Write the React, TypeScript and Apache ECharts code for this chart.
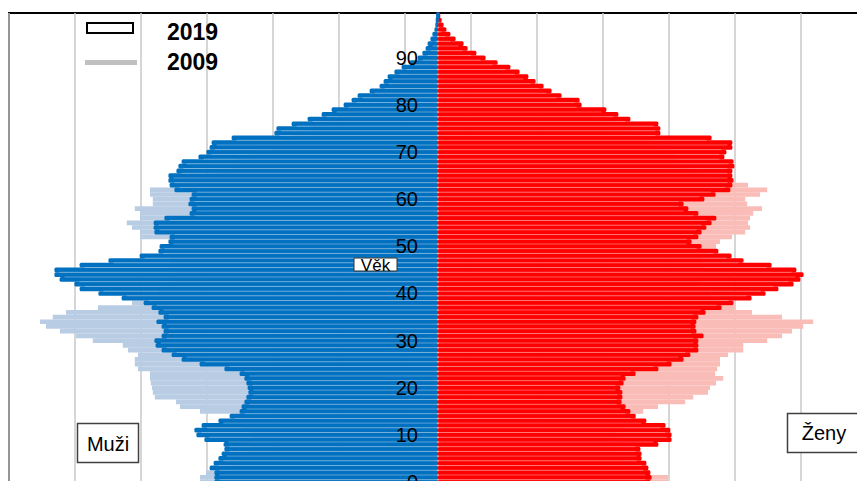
import React, { useEffect, useRef } from "react";
import * as echarts from "echarts";

// Ages 0..99 (category axis, bottom to top)
const ages: string[] = Array.from({ length: 100 }, (_, i) => String(i));
const ageTickStep = 10;

// Population in thousands, by single year of age (index = age)
const male2019 = [
  55.9, 55.9, 55.9, 57.1, 56.1, 54.9, 54.1, 53.4, 53.6, 58.4,
  60.4, 60.9, 59.1, 54.9, 52.1, 49.6, 49.1, 48.4, 47.9, 47.4,
  47.6, 47.9, 48.4, 49.6, 53.4, 59.6, 64.1, 66.6, 69.1, 70.6,
  70.9, 69.1, 68.6, 69.1, 70.4, 68.6, 69.9, 71.6, 73.6, 79.1,
  84.9, 89.6, 90.9, 94.6, 95.9, 95.9, 89.6, 82.4, 74.6, 69.9,
  69.6, 67.4, 67.1, 70.9, 71.1, 71.1, 68.4, 62.1, 61.6, 62.4,
  62.1, 61.6, 65.9, 67.1, 67.4, 67.4, 65.4, 64.9, 64.1, 59.9,
  57.9, 57.1, 56.6, 51.6, 40.9, 40.4, 36.6, 32.6, 29.1, 26.6,
  23.6, 21.6, 20.1, 17.1, 14.6, 13.6, 12.6, 10.9, 9.1, 7.1,
  5.1, 3.9, 3.1, 2.6, 1.9, 1.4, 0.9, 0.6, 0.4, 0.2,
];
const female2019 = [
  53.1, 53.4, 53.1, 52.6, 52.1, 50.9, 50.9, 50.6, 55.1, 58.4,
  58.4, 58.1, 56.9, 52.1, 49.4, 48.1, 46.9, 45.9, 46.1, 46.1,
  45.6, 46.4, 46.9, 49.4, 55.1, 58.4, 61.4, 63.1, 65.1, 65.1,
  65.1, 66.4, 64.6, 64.4, 64.6, 65.1, 66.9, 70.9, 73.9, 78.4,
  81.9, 85.1, 88.9, 90.6, 91.4, 89.6, 83.4, 76.4, 73.4, 70.1,
  65.9, 63.4, 65.1, 65.9, 67.1, 68.4, 69.6, 65.1, 62.6, 61.4,
  66.6, 69.4, 73.1, 73.6, 73.9, 73.6, 73.6, 74.1, 73.9, 71.6,
  72.1, 73.6, 73.6, 68.4, 55.6, 55.6, 55.1, 48.1, 45.1, 42.1,
  35.9, 35.4, 30.9, 28.4, 26.4, 24.4, 22.6, 20.4, 18.1, 14.9,
  11.9, 9.6, 7.4, 6.4, 4.4, 3.1, 2.1, 1.4, 0.9, 0.4,
];
const male2009 = [
  59.5, 59.5, 58.0, 53.8, 51.3, 49.5, 48.0, 47.0, 46.3, 46.3,
  46.8, 47.5, 48.8, 50.0, 51.3, 59.5, 64.5, 65.5, 70.8, 71.3,
  71.5, 71.8, 72.0, 72.0, 75.0, 75.8, 75.8, 75.0, 77.5, 78.8,
  86.3, 90.5, 94.5, 98.0, 99.5, 96.3, 93.0, 85.0, 76.5, 72.5,
  70.0, 69.5, 68.0, 66.3, 65.5, 67.0, 67.5, 67.0, 66.5, 67.5,
  68.8, 67.0, 74.5, 74.5, 76.5, 77.8, 74.5, 74.5, 75.8, 71.3,
  71.3, 72.0, 72.0, 66.3, 63.8, 56.3, 53.8, 51.3, 50.0, 47.5,
  45.0, 41.3, 38.8, 36.3, 35.0, 32.5, 30.0, 27.5, 25.0, 22.5,
  20.0, 17.5, 16.3, 13.8, 11.3, 10.0, 8.8, 7.5, 6.5, 5.0,
  3.8, 2.5, 2.0, 1.5, 1.3, 1.0, 0.5, 0.4, 0.3, 0.3,
];
const female2009 = [
  57.5, 57.5, 53.0, 50.0, 48.0, 46.5, 45.0, 44.3, 43.8, 44.0,
  44.5, 45.0, 46.3, 48.0, 49.5, 51.3, 55.0, 61.8, 63.8, 67.5,
  68.0, 69.5, 71.3, 69.3, 69.8, 70.5, 70.5, 72.5, 76.3, 76.3,
  82.3, 86.0, 88.5, 91.3, 93.8, 86.0, 78.5, 74.3, 71.3, 69.5,
  68.0, 67.0, 66.0, 65.0, 64.5, 66.0, 66.5, 66.0, 65.5, 67.5,
  69.5, 70.5, 73.5, 76.8, 78.0, 77.5, 78.0, 78.8, 81.0, 77.3,
  76.8, 80.5, 82.3, 77.5, 70.0, 66.3, 63.8, 62.0, 60.0, 58.8,
  57.5, 55.5, 53.8, 52.0, 50.0, 47.5, 45.0, 42.0, 39.5, 36.3,
  32.5, 30.0, 27.5, 25.0, 22.5, 20.0, 17.5, 15.0, 12.5, 10.0,
  7.5, 5.5, 4.5, 3.5, 2.5, 2.0, 1.3, 0.8, 0.5, 0.3,
];

const legendLabels = ["2019", "2009"];
const sideLabels = { men: "Muži", women: "Ženy", age: "Věk" };

const FONT = '"Liberation Sans", Arial, sans-serif';
const BLUE = "#0070c0";
const RED = "#ff0000";
const LIGHT_BLUE = "#b8cce4";
const LIGHT_RED = "#f9bcb7";

// seams between adjacent 2019 bars (rendering texture of the original)
function seamData(values: number[], sign: number) {
  const out: number[][] = [];
  for (let i = 0; i < values.length - 1; i++) {
    out.push([sign * Math.min(values[i], values[i + 1]), i]);
  }
  return out;
}

const seamRender = (_params: any, api: any) => {
  const v = api.value(0);
  const i = api.value(1);
  const p0 = api.coord([0, i]);
  const p1 = api.coord([v, i]);
  const h = api.size([0, 1])[1];
  const y = p0[1] - h / 2;
  const dir = v < 0 ? 1 : -1;
  const x2 = p1[0] + dir * 5;
  if ((x2 - p0[0]) * -dir <= 2) return { type: "group", children: [] };
  return {
    type: "line",
    shape: { x1: p0[0], y1: y, x2, y2: y },
    style: { stroke: "rgba(255,255,255,0.38)", lineWidth: 0.9 },
  };
};

export default function App() {
  const ref = useRef<HTMLDivElement>(null);

  useEffect(() => {
    if (!ref.current) return;
    const chart = echarts.init(ref.current, undefined, { renderer: "svg" });
    const gridLeft = 9;
    const gridWidth = 858;
    const half = 107.25;
    const barCommon = {
      type: "bar",
      barGap: "-100%",
      barCategoryGap: "0%",
      silent: true,
    };
    chart.setOption({
      animation: false,
      backgroundColor: "#ffffff",
      grid: {
        left: gridLeft,
        top: 13,
        width: gridWidth,
        height: 471.4,
        show: true,
        borderColor: "#000000",
        borderWidth: 2,
        backgroundColor: "transparent",
      },
      xAxis: {
        type: "value",
        min: -half,
        max: half,
        interval: 16.5,
        axisLine: { show: false },
        axisTick: { show: false },
        axisLabel: { show: false },
        splitLine: { show: true, lineStyle: { color: "#c8c8c8", width: 1.5 } },
      },
      yAxis: {
        type: "category",
        data: ages,
        position: "left",
        offset: -gridWidth / 2,
        z: 10,
        axisLine: { show: false },
        axisTick: { show: false },
        splitLine: { show: false },
        axisLabel: {
          interval: (idx: number) => idx % ageTickStep === 0,
          margin: 20,
          fontSize: 20,
          fontFamily: FONT,
          color: "#000000",
        },
      },
      series: [
        { ...barCommon, name: "Muži 2009", data: male2009.map((v) => -v), itemStyle: { color: LIGHT_BLUE } },
        { ...barCommon, name: "Ženy 2009", data: female2009, itemStyle: { color: LIGHT_RED } },
        {
          ...barCommon,
          name: "Ženy 2019",
          data: female2019,
          itemStyle: { color: RED, borderColor: RED, borderWidth: 3, borderJoin: "round" },
        },
        {
          ...barCommon,
          name: "Muži 2019",
          data: male2019.map((v) => -v),
          itemStyle: { color: BLUE, borderColor: BLUE, borderWidth: 3, borderJoin: "round" },
        },
        {
          type: "custom",
          silent: true,
          z: 3,
          encode: { x: 0, y: 1 },
          data: seamData(female2019, 1),
          renderItem: seamRender,
        },
        {
          type: "custom",
          silent: true,
          z: 3,
          encode: { x: 0, y: 1 },
          data: seamData(male2019, -1),
          renderItem: seamRender,
        },
      ],
      graphic: [
        {
          type: "rect",
          z: 20,
          shape: { x: 87, y: 23, width: 46, height: 10 },
          style: { fill: "#ffffff", stroke: "#000000", lineWidth: 2 },
        },
        {
          type: "text",
          z: 20,
          x: 167,
          y: 32,
          style: { text: legendLabels[0], fontSize: 23, fontWeight: "bold", fontFamily: FONT, fill: "#000", align: "left", verticalAlign: "middle" },
        },
        {
          type: "line",
          z: 20,
          shape: { x1: 85, y1: 62.5, x2: 137, y2: 62.5 },
          style: { stroke: "#c0c0c0", lineWidth: 5 },
        },
        {
          type: "text",
          z: 20,
          x: 167,
          y: 62,
          style: { text: legendLabels[1], fontSize: 23, fontWeight: "bold", fontFamily: FONT, fill: "#000", align: "left", verticalAlign: "middle" },
        },
        {
          type: "rect",
          z: 20,
          shape: { x: 354, y: 258, width: 43, height: 13 },
          style: { fill: "#ffffff", stroke: "#333333", lineWidth: 1 },
        },
        {
          type: "text",
          z: 21,
          x: 375.5,
          y: 265,
          style: { text: sideLabels.age, fontSize: 17, fontFamily: FONT, fill: "#000", align: "center", verticalAlign: "middle" },
        },
        {
          type: "rect",
          z: 20,
          shape: { x: 77.5, y: 423.5, width: 61, height: 39 },
          style: { fill: "#ffffff", stroke: "#404040", lineWidth: 1.5 },
        },
        {
          type: "text",
          z: 21,
          x: 108,
          y: 443.5,
          style: { text: sideLabels.men, fontSize: 20, fontFamily: FONT, fill: "#000", align: "center", verticalAlign: "middle" },
        },
        {
          type: "rect",
          z: 20,
          shape: { x: 787.5, y: 413.5, width: 74, height: 39 },
          style: { fill: "#ffffff", stroke: "#404040", lineWidth: 1.5 },
        },
        {
          type: "text",
          z: 21,
          x: 824,
          y: 433,
          style: { text: sideLabels.women, fontSize: 20, fontFamily: FONT, fill: "#000", align: "center", verticalAlign: "middle" },
        },
      ],
    });
    return () => chart.dispose();
  }, []);

  return (
    <div style={{ position: "fixed", left: 0, top: 0, width: 857, height: 481, overflow: "hidden", background: "#fff" }}>
      <div ref={ref} style={{ width: 900, height: 500 }} />
    </div>
  );
}
